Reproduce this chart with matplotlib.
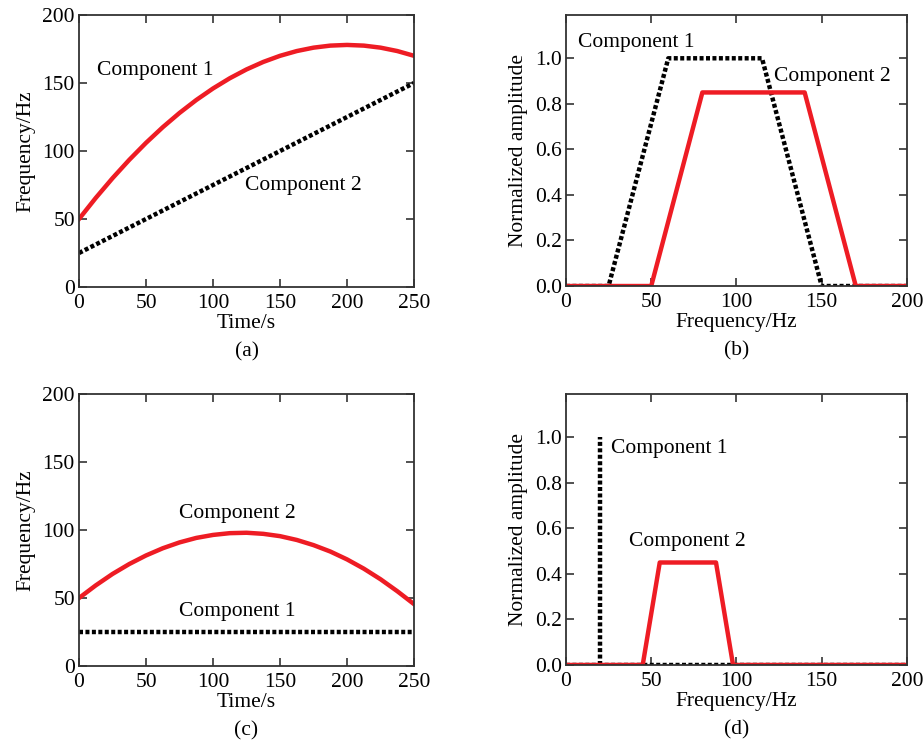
import matplotlib
matplotlib.use('Agg')
import matplotlib.pyplot as plt

plt.rcParams['font.family'] = ['Liberation Serif', 'DejaVu Serif']
plt.rcParams['font.size'] = 15.5

# (a) time-frequency curves
t_a = [0, 12.5, 25, 37.5, 50, 62.5, 75, 87.5, 100, 112.5, 125, 137.5, 150,
       162.5, 175, 187.5, 200, 212.5, 225, 237.5, 250]
f_a1 = [50, 65.5, 80, 93.5, 106, 117.5, 128, 137.5, 146, 153.5, 160, 165.5, 170,
        173.5, 176, 177.5, 178, 177.5, 176, 173.5, 170]
t_a2 = [0, 250]
f_a2 = [25, 150]

# (b) spectra
fb1 = [0, 25, 60, 115, 150, 200]
ab1 = [0, 0, 1.0, 1.0, 0, 0]
fb2 = [0, 50, 80, 140, 170, 200]
ab2 = [0, 0, 0.85, 0.85, 0, 0]

# (c) time-frequency curves
t_c = t_a
f_c2 = [50, 59.3, 67.7, 75.0, 81.3, 86.6, 90.9, 94.2, 96.4, 97.7, 98.0, 97.2, 95.5,
        92.7, 88.9, 84.2, 78.4, 71.6, 63.8, 55.0, 45.5]
t_c1 = [0, 250]
f_c1 = [25, 25]

# (d) spectra: component 1 is a single line at 20 Hz
fd1_base = [0, 200]
ad1_base = [0, 0]
fd1_peak = 20
ad1_peak = 1.0
fd2 = [0, 45, 55, 88, 98, 200]
ad2 = [0, 0, 0.45, 0.45, 0, 0]

RED = '#ee1c24'
DOT = (0, (0.9, 0.55))

fig = plt.figure(figsize=(9.23, 7.47), dpi=100)
ax_a = fig.add_axes([0.0856, 0.6158, 0.363, 0.3641])
ax_b = fig.add_axes([0.6132, 0.6171, 0.3694, 0.3628])
ax_c = fig.add_axes([0.0856, 0.1084, 0.363, 0.3641])
ax_d = fig.add_axes([0.6132, 0.1098, 0.3694, 0.3628])


def style(ax):
    for s in ax.spines.values():
        s.set_linewidth(1.3)
        s.set_color('#333333')
    ax.tick_params(direction='in', top=True, right=True, length=6, width=1.2,
                   labelsize=15.5, pad=3, color='#333333')
    ax.tick_params(axis='x', pad=5)


# (a)
ax_a.plot(t_a, f_a1, color=RED, lw=3.2)
ax_a.plot(t_a2, f_a2, color='black', lw=3.2, linestyle=DOT)
ax_a.set_xlim(0, 250)
ax_a.set_ylim(0, 200)
ax_a.set_xticks(range(0, 251, 50))
ax_a.set_yticks(range(0, 201, 50))
ax_a.set_xlabel('Time/s', labelpad=1)
ax_a.set_ylabel('Frequency/Hz', labelpad=5)
ax_a.text(57, 159, 'Component 1', ha='center', va='center')
ax_a.text(167, 75, 'Component 2', ha='center', va='center')
ax_a.text(0.5, -0.24, '(a)', transform=ax_a.transAxes, ha='center', va='center')
style(ax_a)

# (b)
ax_b.plot(fb1, ab1, color='black', lw=3.2, linestyle=DOT)
ax_b.plot(fb2, ab2, color=RED, lw=3.2)
ax_b.set_xlim(0, 200)
ax_b.set_ylim(0, 1.19)
ax_b.set_xticks(range(0, 201, 50))
ax_b.set_yticks([0, 0.2, 0.4, 0.6, 0.8, 1.0])
ax_b.set_yticklabels(['0.0', '0.2', '0.4', '0.6', '0.8', '1.0'])
ax_b.set_xlabel('Frequency/Hz', labelpad=1)
ax_b.set_ylabel('Normalized amplitude', labelpad=5)
ax_b.text(41.5, 1.07, 'Component 1', ha='center', va='center')
ax_b.text(156, 0.92, 'Component 2', ha='center', va='center')
ax_b.text(0.5, -0.24, '(b)', transform=ax_b.transAxes, ha='center', va='center')
style(ax_b)

# (c)
ax_c.plot(t_c, f_c2, color=RED, lw=3.2)
ax_c.plot(t_c1, f_c1, color='black', lw=3.2, linestyle=DOT)
ax_c.set_xlim(0, 250)
ax_c.set_ylim(0, 200)
ax_c.set_xticks(range(0, 251, 50))
ax_c.set_yticks(range(0, 201, 50))
ax_c.set_xlabel('Time/s', labelpad=1)
ax_c.set_ylabel('Frequency/Hz', labelpad=5)
ax_c.text(118, 112, 'Component 2', ha='center', va='center')
ax_c.text(118, 40, 'Component 1', ha='center', va='center')
ax_c.text(0.5, -0.24, '(c)', transform=ax_c.transAxes, ha='center', va='center')
style(ax_c)

# (d)
ax_d.plot(fd1_base, ad1_base, color='black', lw=3.2, linestyle=DOT)
ax_d.vlines(fd1_peak, 0, ad1_peak, color='black', lw=3.2, linestyle=DOT)
ax_d.plot(fd2, ad2, color=RED, lw=3.2)
ax_d.set_xlim(0, 200)
ax_d.set_ylim(0, 1.19)
ax_d.set_xticks(range(0, 201, 50))
ax_d.set_yticks([0, 0.2, 0.4, 0.6, 0.8, 1.0])
ax_d.set_yticklabels(['0.0', '0.2', '0.4', '0.6', '0.8', '1.0'])
ax_d.set_xlabel('Frequency/Hz', labelpad=1)
ax_d.set_ylabel('Normalized amplitude', labelpad=5)
ax_d.text(60.5, 0.95, 'Component 1', ha='center', va='center')
ax_d.text(71, 0.54, 'Component 2', ha='center', va='center')
ax_d.text(0.5, -0.24, '(d)', transform=ax_d.transAxes, ha='center', va='center')
style(ax_d)

fig.savefig('out.png', dpi=100)
